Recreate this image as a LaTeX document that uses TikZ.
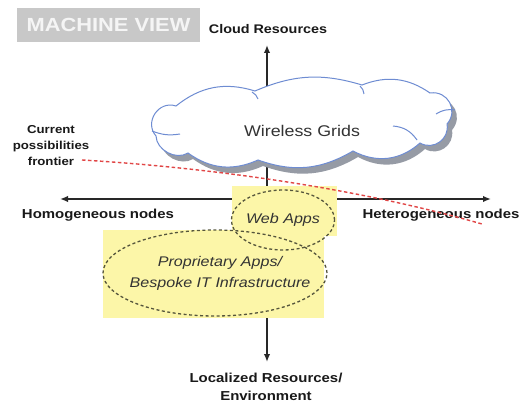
\documentclass[tikz,border=0pt]{standalone}
\usepackage{fontspec}
\setmainfont{Liberation Sans}[FakeStretch=1.15]
\usetikzlibrary{shapes.geometric,arrows.meta}
\definecolor{yel}{RGB}{252,246,168}
\definecolor{cloudline}{RGB}{110,140,210}
\definecolor{dashcol}{RGB}{85,85,60}
\definecolor{frontred}{RGB}{225,70,70}
\definecolor{tagbg}{RGB}{200,200,200}
\definecolor{axiscol}{RGB}{40,40,40}
\definecolor{shadowcol}{RGB}{150,155,165}
\def\cloudpath{(176,106) to[bend left=28] (255,91) to[bend left=20] (362,85) to[bend left=28] (430,93)
  to[bend left=70, looseness=1.3] (447,124) to[bend left=65, looseness=1.2] (420,143)
  to[bend left=35] (353,151) to[bend left=25] (258,160) to[bend left=30] (188,153)
  to[bend left=60] (156,136) to[bend left=75, looseness=1.3] (176,106) -- cycle}
\begin{document}
\begin{tikzpicture}[x=1pt,y=-1pt,
  lbl/.style={font=\bfseries\fontsize{13}{18}\selectfont, align=center, text=black!90, inner sep=0},
  axis/.style={line width=1.6pt, draw=axiscol, -{Latex[length=8pt,width=6.5pt]}},
  dashell/.style={ellipse, draw=dashcol, line width=1.3pt, dash pattern=on 3pt off 2.5pt, inner sep=0},
  itxt/.style={font=\itshape\fontsize{14}{21}\selectfont, align=center, text=black!80, inner sep=0},
  cloudln/.style={draw=cloudline, line width=1pt}]
\useasboundingbox (0,0) rectangle (524,403);
\fill[white] (0,0) rectangle (524,403);

% title tag
\node[fill=tagbg, text=white!92!gray, font=\bfseries\fontsize{19}{21}\selectfont,
  minimum width=183pt, minimum height=34pt, inner sep=0] (title) at (108.5,25) {MACHINE VIEW};

% axes
\coordinate (O) at (267,199);
\coordinate (up) at (267,45);
\coordinate (down) at (267,362);
\coordinate (left) at (60,199);
\coordinate (right) at (491,199);
\draw[axis] (O) -- (up);
\draw[axis] (O) -- (down);
\draw[axis] (O) -- (left);
\draw[axis] (O) -- (right);

% cloud
\fill[shadowcol, shift={(5,6)}] \cloudpath;
\filldraw[fill=white, cloudln] \cloudpath;
\draw[cloudln] (152,131) to[bend right=15] (180,134);
\draw[cloudln] (393,126) to[bend left=25] (417,140);
\draw[cloudln] (436,114) to[bend left=20] (455,110);
\draw[cloudln] (252,92) to[bend left=20] (258,99);
\draw[cloudln] (360,86) to[bend left=20] (364,94);
\coordinate (cloud) at (300,122);
\node[font=\fontsize{15.5}{18}\selectfont, text=black!80] (wg) at (302,131) {Wireless Grids};

% yellow region
\fill[yel] (103,230) rectangle (324,318);
\fill[yel] (232,186) rectangle (337,236);

% ellipses
\node[dashell, minimum width=103pt, minimum height=60pt] (web) at (283,220) {};
\node[itxt] (webt) at (web.center) {Web Apps};
\node[dashell, minimum width=224pt, minimum height=86pt] (prop) at (215,273) {};
\node[itxt] (propt) at (220,273) {Proprietary Apps/\\Bespoke IT Infrastructure};

% labels
\node[lbl, font=\bfseries\fontsize{12.5}{14}\selectfont] (cr) at (268,29) {Cloud Resources};
\node[lbl] (homo) at (98,215) {Homogeneous nodes};
\node[lbl] (hetero) at (441,215) {Heterogeneous nodes};
\node[lbl] (loc) at (266,387) {Localized Resources/\\Environment};
\node[lbl, font=\bfseries\fontsize{11.5}{16}\selectfont] (cur) at (51,146) {Current\\possibilities\\frontier};

% frontier
\coordinate (fs) at (82,160);
\coordinate (fe) at (482,224);
\draw[frontred, line width=1.4pt, dash pattern=on 3.5pt off 2.5pt] (fs) .. controls (200,167) and (350,186) .. (fe);
\end{tikzpicture}
\end{document}
